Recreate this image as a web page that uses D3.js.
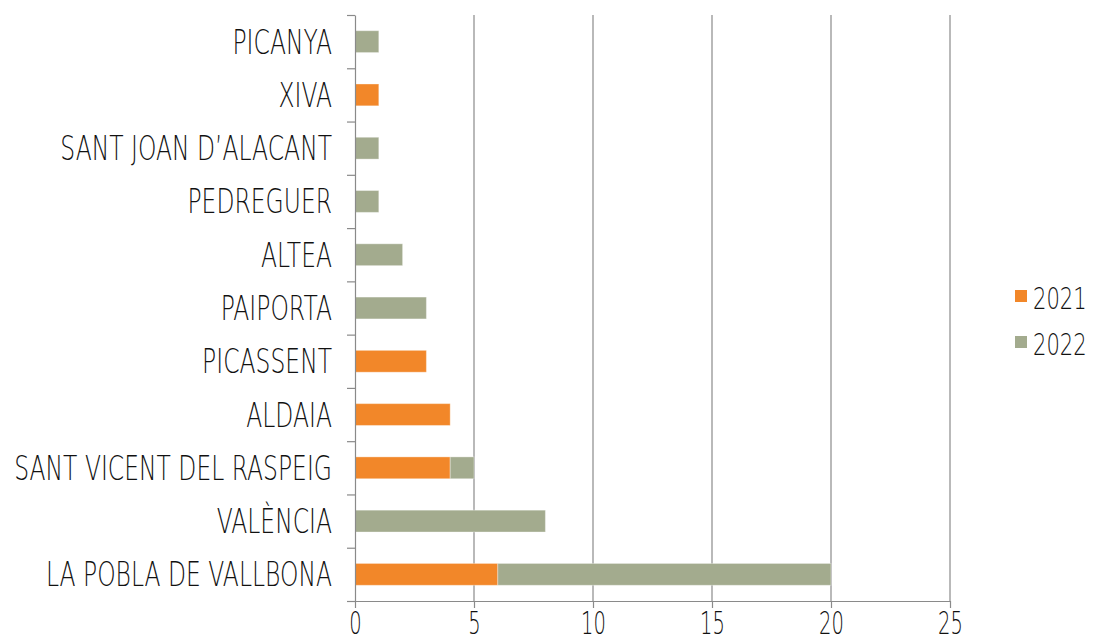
<!DOCTYPE html>
<html>
<head>
<meta charset="utf-8">
<script src="https://cdn.jsdelivr.net/npm/d3@7"></script>
<style>
  body { margin: 0; background: #fff; }
  text { font-family: "DejaVu Sans", sans-serif; font-weight: 200; fill: #111; }
</style>
</head>
<body>
<div id="vis"></div>
<script>
const categories = ['PICANYA', 'XIVA', "SANT JOAN D\u2019ALACANT", 'PEDREGUER', 'ALTEA', 'PAIPORTA',
  'PICASSENT', 'ALDAIA', 'SANT VICENT DEL RASPEIG', 'VAL\u00c8NCIA', 'LA POBLA DE VALLBONA'];
const values2021 = [0, 1, 0, 0, 0, 0, 3, 4, 4, 0, 6];
const values2022 = [1, 0, 1, 1, 2, 3, 0, 0, 1, 8, 14];
const seriesNames = ['2021', '2022'];
const xTicks = [0, 5, 10, 15, 20, 25];

const width = 1097, height = 641;
const margin = { top: 15, left: 355, right: 147, bottom: 40 };
const colors = { '2021': '#f28729', '2022': '#a3ab8e' };

const svg = d3.select('#vis')
  .append('svg')
    .attr('width', width)
    .attr('height', height);

const x = d3.scaleLinear()
  .domain([0, 25])
  .range([margin.left, width - margin.right]);

const y = d3.scaleBand()
  .domain(categories)
  .range([margin.top, height - margin.bottom])
  .paddingInner(0.59)
  .paddingOuter(0.295);

// boundaries between categories, for the little ticks on the left axis
const yEdge = d3.scaleLinear()
  .domain([0, categories.length])
  .range([margin.top, height - margin.bottom]);

// gridlines
svg.append('g')
  .selectAll('line')
  .data(xTicks.slice(1))
  .join('line')
    .attr('x1', d => x(d))
    .attr('x2', d => x(d))
    .attr('y1', margin.top)
    .attr('y2', height - margin.bottom)
    .attr('stroke', '#8a8a8a')
    .attr('stroke-width', 1.2);

// stacked bars
const rows = categories.map((c, i) => ({ cat: c, '2021': values2021[i], '2022': values2022[i] }));
const stacked = d3.stack().keys(seriesNames)(rows);

svg.append('g')
  .selectAll('g')
  .data(stacked)
  .join('g')
    .attr('fill', d => colors[d.key])
  .selectAll('rect')
  .data(d => d.filter(p => p[1] > p[0]))
  .join('rect')
    .attr('x', d => x(d[0]))
    .attr('width', d => x(d[1]) - x(d[0]))
    .attr('y', d => y(d.data.cat))
    .attr('height', y.bandwidth())
    .attr('stroke', 'rgba(255,255,255,0.35)')
    .attr('stroke-width', 1);

// x axis
const xAxis = svg.append('g')
  .attr('transform', 'translate(0,' + (height - margin.bottom) + ')')
  .call(d3.axisBottom(x).tickValues(xTicks).tickSize(7).tickSizeOuter(0));
xAxis.select('.domain').attr('stroke', '#8a8a8a').attr('stroke-width', 1.2);
xAxis.selectAll('.tick line').attr('stroke', '#8a8a8a').attr('stroke-width', 1.2);
xAxis.selectAll('.tick text')
  .attr('y', 0)
  .attr('dy', 0)
  .attr('transform', 'translate(0,33) scale(0.61,1)')
  .attr('font-size', 32)
  .attr('font-family', null);

// left axis line with ticks at band edges
const yAxis = svg.append('g')
  .attr('transform', 'translate(' + margin.left + ',0)')
  .call(d3.axisLeft(yEdge).tickValues(d3.range(categories.length + 1)).tickSize(8).tickSizeOuter(0).tickFormat(''));
yAxis.select('.domain').attr('stroke', '#8a8a8a').attr('stroke-width', 1.2);
yAxis.selectAll('.tick line').attr('stroke', '#8a8a8a').attr('stroke-width', 1.2);

// category labels
const yLabels = svg.append('g')
  .attr('transform', 'translate(' + margin.left + ',0)')
  .call(d3.axisLeft(y).tickSize(0));
yLabels.select('.domain').remove();
yLabels.selectAll('.tick text')
  .attr('x', 0)
  .attr('dy', 0)
  .attr('transform', 'translate(-23,12) scale(0.69,1)')
  .attr('font-size', 34)
  .attr('font-family', null);

// legend
const legend = svg.append('g')
  .selectAll('g')
  .data(seriesNames)
  .join('g')
    .attr('transform', (d, i) => 'translate(1015,' + (290 + i * 46) + ')');
legend.append('rect')
  .attr('width', 12)
  .attr('height', 12)
  .attr('fill', d => colors[d]);
legend.append('text')
  .attr('transform', 'translate(18,19) scale(0.68,1)')
  .attr('font-size', 31)
  .text(d => d);
</script>
</body>
</html>
